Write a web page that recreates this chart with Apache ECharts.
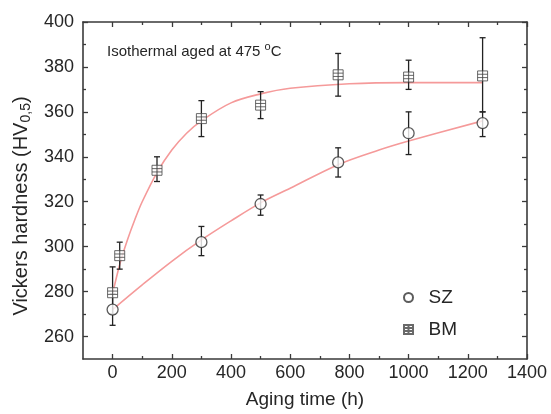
<!DOCTYPE html>
<html>
<head>
<meta charset="utf-8">
<script src="https://cdn.jsdelivr.net/npm/echarts@6/dist/echarts.min.js"></script>
<style>html,body{margin:0;padding:0;background:#fff}#c{width:551px;height:414px}</style>
</head>
<body>
<div id="c"></div>
<script>
// ---- data ----
const szTime = [0, 300, 500, 762, 1000, 1250];
const szHard = [272, 302, 319, 337.5, 350.5, 355];
const szLow  = [265, 296, 314, 331, 341, 349];
const szHigh = [279, 309, 323, 344, 360, 360];

const bmTime = [0, 24, 150, 300, 500, 762, 1000, 1250];
const bmHard = [279.5, 296, 334, 357, 363, 376.5, 375.5, 376];
const bmLow  = [270, 290, 329, 349, 357, 367, 370, 360];
const bmHigh = [291, 302, 340, 365, 369, 386, 383, 393];

const szFitTime = [0, 100, 200, 300, 400, 500, 600, 762, 900, 1000, 1250];
const szFitHard = [272, 283, 293.5, 303, 311.5, 319.5, 326, 336.5, 343, 347, 356];
const bmFitTime = [0, 25, 50, 75, 100, 150, 200, 250, 300, 400, 500, 600, 800, 1000, 1250];
const bmFitHard = [279, 292.5, 303, 312, 320, 333, 343, 350.5, 356, 364, 368, 370.5, 372.5, 373, 373];

const xMajor = [0, 200, 400, 600, 800, 1000, 1200, 1400];
const xMinor = [100, 300, 500, 700, 900, 1100, 1300];
const yMajor = [260, 280, 300, 320, 340, 360, 380, 400];
const yMinor = [270, 290, 310, 330, 350, 370, 390];

const seriesNames = ['SZ', 'BM'];
const noteText = 'Isothermal aged at 475 ';
const xTitle = 'Aging time (h)';

// ---- chart ----
const FONT = 'Liberation Sans, Arial, sans-serif';
const AX = '#3a3a3a';
const TXT = '#262626';
const BM_PATH = 'path://M0,0 L10,0 L10,10 L0,10 Z M0,3.33 L10,3.33 M0,6.67 L10,6.67 M5,0 L5,10';

function zip(a, b) { return a.map((v, i) => [v, b[i]]); }
function zip3(a, b, c) { return a.map((v, i) => [v, b[i], c[i]]); }

function errRender(params, api) {
  const x = api.value(0);
  const lo = api.coord([x, api.value(1)]);
  const hi = api.coord([x, api.value(2)]);
  const cap = 3;
  const st = { stroke: '#222', lineWidth: 1.3 };
  return {
    type: 'group',
    children: [
      { type: 'line', shape: { x1: hi[0], y1: hi[1], x2: lo[0], y2: lo[1] }, style: st },
      { type: 'line', shape: { x1: hi[0] - cap, y1: hi[1], x2: hi[0] + cap, y2: hi[1] }, style: st },
      { type: 'line', shape: { x1: lo[0] - cap, y1: lo[1], x2: lo[0] + cap, y2: lo[1] }, style: st }
    ]
  };
}

function xAx(pos, ticks, len, showLine, showLabel) {
  return {
    type: 'value', position: pos, min: -100, max: 1400,
    axisLine: { show: showLine, onZero: false, lineStyle: { color: AX, width: 1.6 } },
    axisTick: { show: true, inside: true, length: len, customValues: ticks, lineStyle: { color: AX, width: 1.3 } },
    axisLabel: { show: showLabel, customValues: ticks, margin: 5, color: TXT, fontSize: 18, fontFamily: FONT,
      formatter: v => String(v) },
    splitLine: { show: false },
    name: showLabel ? xTitle : '', nameLocation: 'middle', nameGap: 31,
    nameTextStyle: { color: TXT, fontSize: 19, fontFamily: FONT }
  };
}
function yAx(pos, ticks, len, showLine, showLabel) {
  return {
    type: 'value', position: pos, min: 250, max: 400,
    axisLine: { show: showLine, onZero: false, lineStyle: { color: AX, width: 1.6 } },
    axisTick: { show: true, inside: true, length: len, customValues: ticks, lineStyle: { color: AX, width: 1.3 } },
    axisLabel: { show: showLabel, customValues: ticks, margin: 9, color: TXT, fontSize: 18, fontFamily: FONT,
      formatter: v => String(v) },
    splitLine: { show: false }
  };
}

const chart = echarts.init(document.getElementById('c'), null, { renderer: 'canvas' });
chart.setOption({
  animation: false,
  backgroundColor: '#fff',
  grid: { left: 83, right: 24, top: 22, bottom: 51, containLabel: false },
  xAxis: [
    xAx('bottom', xMajor, 5, true, true),
    xAx('bottom', xMinor, 3, false, false),
    xAx('top', xMajor, 5, true, false),
    xAx('top', xMinor, 3, false, false)
  ],
  yAxis: [
    yAx('left', yMajor, 5, true, true),
    yAx('left', yMinor, 3, false, false),
    yAx('right', yMajor, 5, true, false),
    yAx('right', yMinor, 3, false, false)
  ],
  legend: {
    data: seriesNames,
    orient: 'vertical', left: 398, top: 283,
    itemWidth: 30, itemHeight: 9, itemGap: 13,
    textStyle: { color: TXT, fontSize: 19, fontFamily: FONT }
  },
  graphic: [
    {
      type: 'text', x: 21, y: 206, rotation: Math.PI / 2,
      style: {
        text: 'Vickers hardness (HV{sub|0,5})',
        fill: TXT, font: '20px ' + FONT, align: 'center', verticalAlign: 'middle',
        rich: { sub: { fontSize: 14, fontFamily: FONT, fill: TXT, padding: [10, 0, 0, 0] } }
      }
    },
    {
      type: 'text', x: 107, y: 52,
      style: {
        text: noteText + '{sup|o}C',
        fill: TXT, font: '15px ' + FONT, align: 'left', verticalAlign: 'middle',
        rich: { sup: { fontSize: 11, fontFamily: FONT, fill: TXT, padding: [0, 0, 10, 0] } }
      }
    }
  ],
  series: [
    { type: 'line', name: 'SZ fit', data: zip(szFitTime, szFitHard), smooth: 0.35, symbol: 'none',
      lineStyle: { color: '#f59a9a', width: 1.6 }, z: 1 },
    { type: 'line', name: 'BM fit', data: zip(bmFitTime, bmFitHard), smooth: 0.35, symbol: 'none',
      lineStyle: { color: '#f59a9a', width: 1.6 }, z: 1 },
    { type: 'custom', name: 'SZ err', data: zip3(szTime, szLow, szHigh), renderItem: errRender, z: 2 },
    { type: 'custom', name: 'BM err', data: zip3(bmTime, bmLow, bmHigh), renderItem: errRender, z: 2 },
    { type: 'scatter', name: 'SZ', data: zip(szTime, szHard), symbol: 'circle', symbolSize: 11,
      itemStyle: { color: '#fff', borderColor: '#333', borderWidth: 1.3 }, z: 3 },
    { type: 'scatter', name: 'BM', data: zip(bmTime, bmHard), symbol: BM_PATH, symbolSize: 10,
      itemStyle: { color: '#fff', borderColor: '#444', borderWidth: 1 }, z: 3 }
  ]
});
</script>
</body>
</html>
